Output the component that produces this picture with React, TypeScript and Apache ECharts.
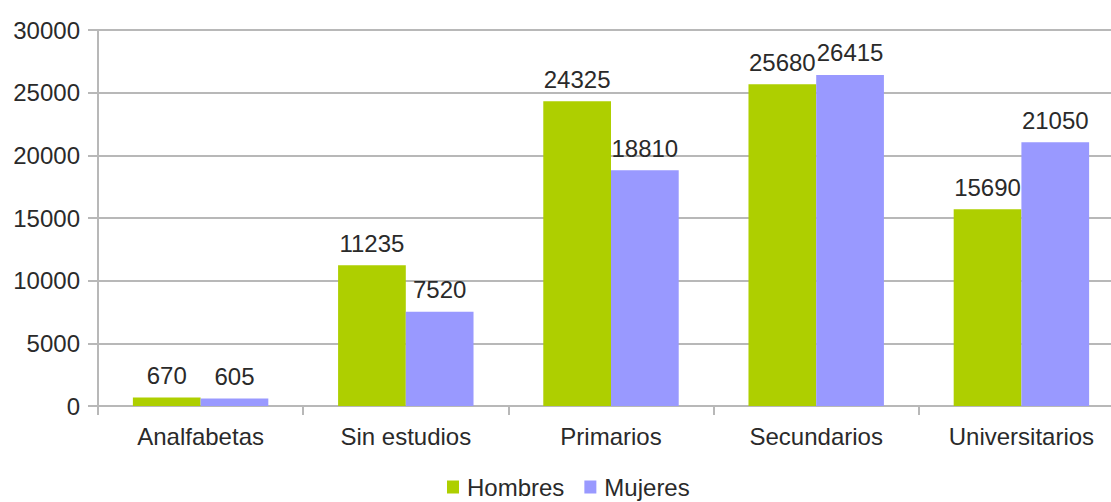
import React, { useEffect, useRef } from "react";
import * as echarts from "echarts";

const categories = ["Analfabetas", "Sin estudios", "Primarios", "Secundarios", "Universitarios"];
const hombres = [670, 11235, 24325, 25680, 15690];
const mujeres = [605, 7520, 18810, 26415, 21050];
const seriesNames = ["Hombres", "Mujeres"];

const FONT = "'Liberation Sans', Arial, sans-serif";
const TEXT = "#2a2a2a";
const GRID = "#b8b8b8";

export default function App() {
  const ref = useRef<HTMLDivElement>(null);
  useEffect(() => {
    if (!ref.current) return;
    const chart = echarts.init(ref.current, undefined, { renderer: "svg" });
    const labelStyle = {
      show: true,
      position: "top" as const,
      distance: 10,
      color: TEXT,
      fontSize: 24,
      fontFamily: FONT,
    };
    chart.setOption({
      animation: false,
      backgroundColor: "#ffffff",
      textStyle: { fontFamily: FONT },
      grid: { left: 98, right: 0, top: 30, bottom: 96, containLabel: false },
      legend: {
        bottom: -2,
        left: 442,
        itemWidth: 12,
        itemHeight: 13,
        itemGap: 20,
        icon: "rect",
        textStyle: { color: TEXT, fontSize: 24, fontFamily: FONT, padding: [0, 0, 0, 3] },
        data: seriesNames,
      },
      xAxis: {
        type: "category",
        data: categories,
        axisLine: { show: true, lineStyle: { color: GRID, width: 2 } },
        axisTick: { show: true, alignWithLabel: false, length: 9, lineStyle: { color: GRID, width: 2 } },
        axisLabel: { color: TEXT, fontSize: 24, fontFamily: FONT, margin: 18 },
        splitLine: { show: false },
      },
      yAxis: {
        type: "value",
        min: 0,
        max: 30000,
        interval: 5000,
        axisLine: { show: true, lineStyle: { color: GRID, width: 2 } },
        axisTick: { show: true, length: 10, lineStyle: { color: GRID, width: 2 } },
        axisLabel: {
          color: TEXT,
          fontSize: 24,
          fontFamily: FONT,
          margin: 18,
          formatter: (v: number) => String(v),
        },
        splitLine: { show: true, lineStyle: { color: GRID, width: 2 } },
      },
      series: [
        {
          name: seriesNames[0],
          type: "bar",
          data: hombres,
          itemStyle: { color: "#aecf00" },
          barGap: "0%",
          barCategoryGap: "34%",
          label: labelStyle,
        },
        {
          name: seriesNames[1],
          type: "bar",
          data: mujeres,
          itemStyle: { color: "#9999ff" },
          barGap: "0%",
          barCategoryGap: "34%",
          label: labelStyle,
        },
      ],
    });
    return () => chart.dispose();
  }, []);
  return (
    <div
      style={{ position: "fixed", left: 0, top: 0, width: 1111, height: 502, overflow: "hidden", background: "#fff" }}
    >
      <div ref={ref} style={{ width: 1124, height: 502 }} />
    </div>
  );
}
